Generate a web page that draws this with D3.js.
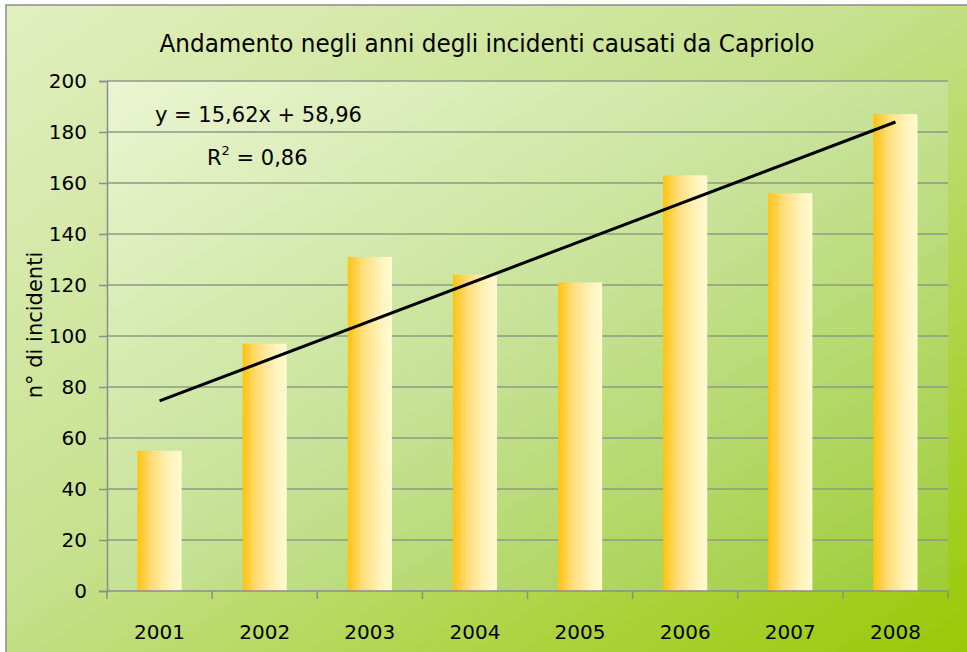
<!DOCTYPE html>
<html>
<head>
<meta charset="utf-8">
<script src="https://cdn.jsdelivr.net/npm/d3@7"></script>
<style>
  body { margin: 0; background: #fff; }
  svg { display: block; font-family: "DejaVu Sans", sans-serif; }
</style>
</head>
<body>
<div id="chart"></div>
<script>
// data
const years = ['2001', '2002', '2003', '2004', '2005', '2006', '2007', '2008'];
const incidents = [55, 97, 131, 124, 121, 163, 156, 187];
const yTicks = [0, 20, 40, 60, 80, 100, 120, 140, 160, 180, 200];
const trend = { slope: 15.62, intercept: 58.96 };
const eqLabel = 'y = 15,62x + 58,96';
const r2Label = '0,86';

const width = 967, height = 652;
const margin = {top: 81, right: 19, bottom: 61, left: 107};

const svg = d3.select('#chart').append('svg')
    .attr('width', width)
    .attr('height', height);

const defs = svg.append('defs');

const outerGrad = defs.append('linearGradient')
    .attr('id', 'outerBg')
    .attr('x1', '0%').attr('y1', '0%').attr('x2', '100%').attr('y2', '100%');
outerGrad.append('stop').attr('offset', '0%').attr('stop-color', '#e2efbf');
outerGrad.append('stop').attr('offset', '45%').attr('stop-color', '#c6e18e');
outerGrad.append('stop').attr('offset', '100%').attr('stop-color', '#97c800');

const plotGrad = defs.append('linearGradient')
    .attr('id', 'plotBg')
    .attr('x1', '0%').attr('y1', '0%').attr('x2', '100%').attr('y2', '100%');
plotGrad.append('stop').attr('offset', '0%').attr('stop-color', '#ebf5d2');
plotGrad.append('stop').attr('offset', '50%').attr('stop-color', '#c6e296');
plotGrad.append('stop').attr('offset', '100%').attr('stop-color', '#9ecd36');

const barGrad = defs.append('linearGradient')
    .attr('id', 'barFill')
    .attr('x1', '0%').attr('y1', '0%').attr('x2', '100%').attr('y2', '0%');
barGrad.append('stop').attr('offset', '0%').attr('stop-color', '#ffc20e');
barGrad.append('stop').attr('offset', '35%').attr('stop-color', '#ffdf7e');
barGrad.append('stop').attr('offset', '75%').attr('stop-color', '#fff3bd');
barGrad.append('stop').attr('offset', '100%').attr('stop-color', '#fffad2');

// chart area
svg.append('rect')
    .attr('x', 6).attr('y', 5)
    .attr('width', width + 10).attr('height', height + 10)
    .attr('fill', 'url(#outerBg)')
    .attr('stroke', '#8c8c8c')
    .attr('stroke-width', 1.5);

const innerW = width - margin.left - margin.right;
const innerH = height - margin.top - margin.bottom;

const x = d3.scaleBand()
    .domain(years)
    .range([margin.left, margin.left + innerW])
    .paddingInner(0.58)
    .paddingOuter(0.29);

const y = d3.scaleLinear()
    .domain([0, 200])
    .range([margin.top + innerH, margin.top]);

svg.append('rect')
    .attr('x', margin.left).attr('y', margin.top)
    .attr('width', innerW).attr('height', innerH)
    .attr('fill', 'url(#plotBg)');

// gridlines
svg.append('g')
    .selectAll('line')
    .data(yTicks.filter(d => d > 0))
  .enter().append('line')
    .attr('x1', margin.left).attr('x2', margin.left + innerW)
    .attr('y1', d => y(d)).attr('y2', d => y(d))
    .attr('stroke', '#8e9a84')
    .attr('stroke-width', 1.5);

// bars
svg.append('g')
    .selectAll('rect')
    .data(incidents)
  .enter().append('rect')
    .attr('x', (d, i) => x(years[i]))
    .attr('y', d => y(d))
    .attr('width', x.bandwidth())
    .attr('height', d => y(0) - y(d))
    .attr('fill', 'url(#barFill)');

// y axis
const yAxis = svg.append('g')
    .attr('transform', `translate(${margin.left},0)`)
    .call(d3.axisLeft(y).tickValues(yTicks).tickSize(8).tickPadding(12));
yAxis.select('.domain').attr('stroke', '#8c8c8c').attr('stroke-width', 1.5);
yAxis.selectAll('.tick line').attr('stroke', '#8c8c8c').attr('stroke-width', 1.5);
yAxis.selectAll('.tick text')
    .attr('font-size', 20)
    .attr('fill', '#000')
    .attr('font-family', '"DejaVu Sans", sans-serif');

// x axis with ticks at category boundaries
const xAxisG = svg.append('g')
    .attr('transform', `translate(0,${y(0)})`);
xAxisG.append('line')
    .attr('x1', margin.left).attr('x2', margin.left + innerW)
    .attr('stroke', '#8c8c8c').attr('stroke-width', 1.5);
xAxisG.selectAll('.xtick')
    .data(d3.range(years.length + 1))
  .enter().append('line')
    .attr('class', 'xtick')
    .attr('x1', i => margin.left + i * x.step())
    .attr('x2', i => margin.left + i * x.step())
    .attr('y1', 0).attr('y2', 8)
    .attr('stroke', '#8c8c8c').attr('stroke-width', 1.5);
xAxisG.selectAll('.xlabel')
    .data(years)
  .enter().append('text')
    .attr('class', 'xlabel')
    .attr('x', d => x(d) + x.bandwidth() / 2)
    .attr('y', 48)
    .attr('text-anchor', 'middle')
    .attr('font-size', 20)
    .text(d => d);

// trendline
const xi = i => x(years[i - 1]) + x.bandwidth() / 2;
svg.append('line')
    .attr('x1', xi(1))
    .attr('y1', y(trend.slope * 1 + trend.intercept))
    .attr('x2', xi(years.length))
    .attr('y2', y(trend.slope * years.length + trend.intercept))
    .attr('stroke', '#000')
    .attr('stroke-width', 3);

// equation labels
svg.append('text')
    .attr('x', 155).attr('y', 122)
    .attr('font-size', 21)
    .attr('textLength', 207)
    .attr('lengthAdjust', 'spacingAndGlyphs')
    .text(eqLabel);

const r2 = svg.append('text')
    .attr('x', 207).attr('y', 165)
    .attr('font-size', 21);
r2.append('tspan').text('R');
r2.append('tspan').attr('font-size', 13).attr('dy', -10).text('2');
r2.append('tspan').attr('dy', 10).text(' = ' + r2Label);

// title
svg.append('text')
    .attr('x', 487).attr('y', 52)
    .attr('text-anchor', 'middle')
    .attr('font-size', 24)
    .attr('textLength', 655)
    .attr('lengthAdjust', 'spacingAndGlyphs')
    .text('Andamento negli anni degli incidenti causati da Capriolo');

// y axis title
svg.append('text')
    .attr('transform', 'translate(42,325) rotate(-90)')
    .attr('text-anchor', 'middle')
    .attr('font-size', 21)
    .text('n° di incidenti');
</script>
</body>
</html>
